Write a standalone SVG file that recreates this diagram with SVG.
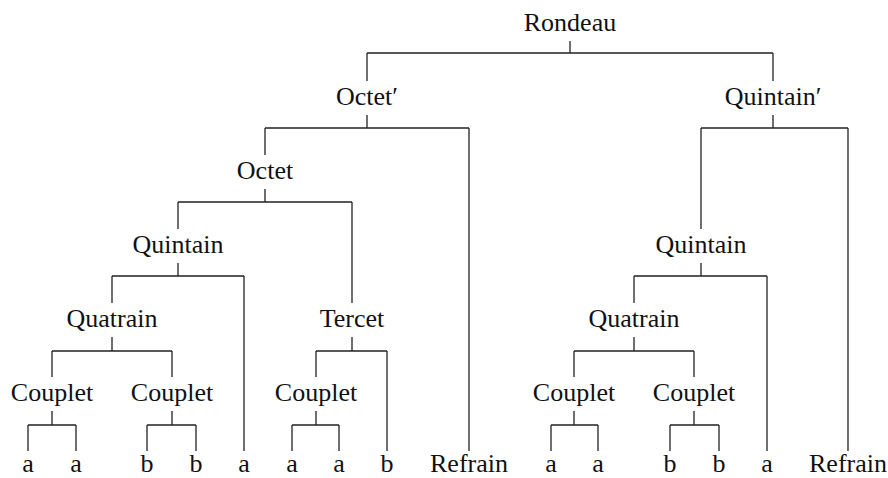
<svg xmlns="http://www.w3.org/2000/svg" width="888" height="478" viewBox="0 0 888 478">
<style>
.t{font-family:"Liberation Serif","Times New Roman",serif;font-size:26px;fill:#111;text-anchor:middle}
.c{fill:none;stroke:#222;stroke-width:1.3}
</style>
<rect width="888" height="478" fill="#fff"/>
<g id="connectors" class="c">
<path d="M570 41V53M367 53H773M367 53V81M773 53V81"/>
<path d="M367 115V128M265 128H469M265 128V155M469 128V451"/>
<path d="M265 189V202M178 202H352M178 202V229M352 202V303"/>
<path d="M178 263V276M112 276H244M112 276V303M244 276V451"/>
<path d="M112 337V351M52 351H172M52 351V377M172 351V377"/>
<path d="M52 411V425M28 425H76M28 425V451M76 425V451"/>
<path d="M172 411V425M147 425H196M147 425V451M196 425V451"/>
<path d="M352 337V351M316 351H387M316 351V377M387 351V451"/>
<path d="M316 411V425M292 425H339M292 425V451M339 425V451"/>
<path d="M773 115V128M701 128H848M701 128V229M848 128V451"/>
<path d="M701 263V276M634 276H767M634 276V303M767 276V451"/>
<path d="M634 337V351M574 351H694M574 351V377M694 351V377"/>
<path d="M574 411V425M551 425H598M551 425V451M598 425V451"/>
<path d="M694 411V425M670 425H719M670 425V451M719 425V451"/>
</g>
<g id="rondeau"><text class="t" x="570" y="31">Rondeau</text></g>
<g id="octet-prime"><text class="t" x="367" y="105">Octet′</text></g>
<g id="quintain-prime"><text class="t" x="773" y="105">Quintain′</text></g>
<g id="octet"><text class="t" x="265" y="179">Octet</text></g>
<g id="quintain-l"><text class="t" x="178" y="253">Quintain</text></g>
<g id="quintain-r"><text class="t" x="701" y="253">Quintain</text></g>
<g id="quatrain-l"><text class="t" x="112" y="327">Quatrain</text></g>
<g id="tercet"><text class="t" x="352" y="327">Tercet</text></g>
<g id="quatrain-r"><text class="t" x="634" y="327">Quatrain</text></g>
<g id="couplet-1"><text class="t" x="52" y="401">Couplet</text></g>
<g id="couplet-2"><text class="t" x="172" y="401">Couplet</text></g>
<g id="couplet-3"><text class="t" x="316" y="401">Couplet</text></g>
<g id="couplet-4"><text class="t" x="574" y="401">Couplet</text></g>
<g id="couplet-5"><text class="t" x="694" y="401">Couplet</text></g>
<g id="leaf-1"><text class="t" x="28" y="472">a</text></g>
<g id="leaf-2"><text class="t" x="76" y="472">a</text></g>
<g id="leaf-3"><text class="t" x="147" y="472">b</text></g>
<g id="leaf-4"><text class="t" x="196" y="472">b</text></g>
<g id="leaf-5"><text class="t" x="244" y="472">a</text></g>
<g id="leaf-6"><text class="t" x="292" y="472">a</text></g>
<g id="leaf-7"><text class="t" x="339" y="472">a</text></g>
<g id="leaf-8"><text class="t" x="387" y="472">b</text></g>
<g id="refrain-l"><text class="t" x="469" y="472">Refrain</text></g>
<g id="leaf-9"><text class="t" x="551" y="472">a</text></g>
<g id="leaf-10"><text class="t" x="598" y="472">a</text></g>
<g id="leaf-11"><text class="t" x="670" y="472">b</text></g>
<g id="leaf-12"><text class="t" x="719" y="472">b</text></g>
<g id="leaf-13"><text class="t" x="767" y="472">a</text></g>
<g id="refrain-r"><text class="t" x="848" y="472">Refrain</text></g>
</svg>
